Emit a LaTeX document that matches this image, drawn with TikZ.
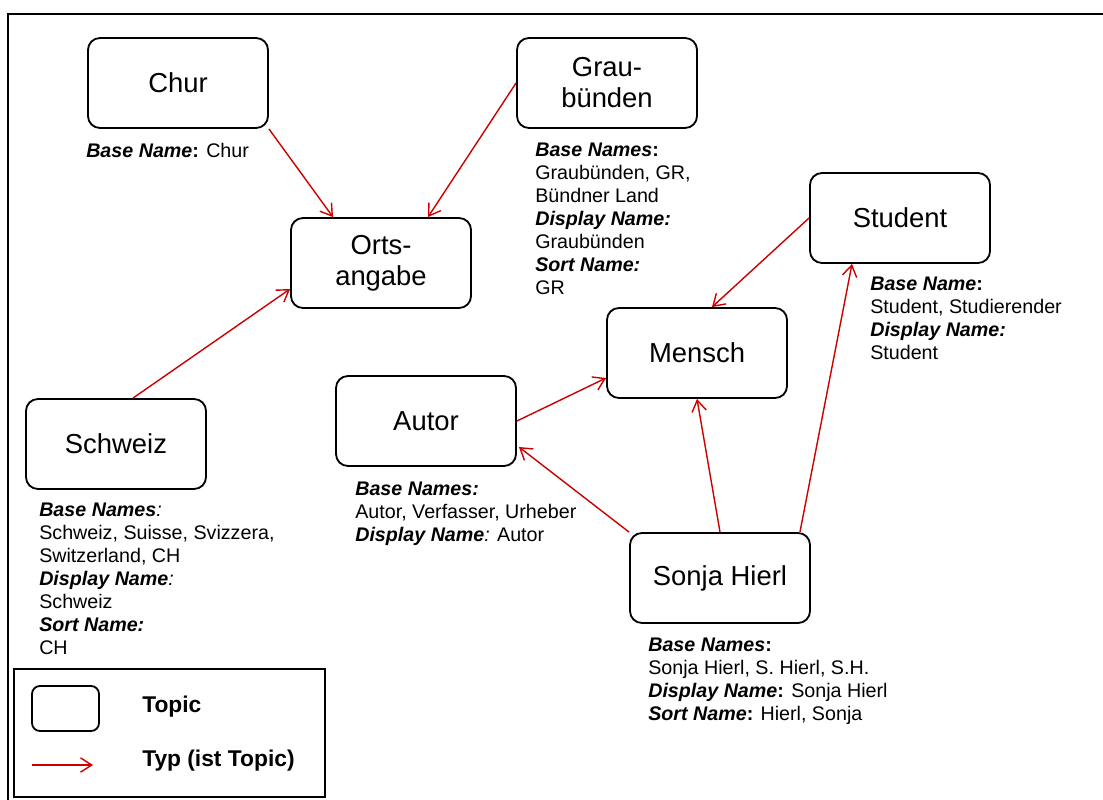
\documentclass[tikz,border=0pt]{standalone}
\usepackage{fontspec}
\setmainfont{Liberation Sans}
\usetikzlibrary{arrows.meta, calc, positioning}
\definecolor{typred}{RGB}{204,0,0}
\newcommand{\fld}[1]{\textbf{\textit{#1}}}
\tikzset{
	topic/.style ={rectangle, rounded corners=0.3cm, draw, line width=1.3pt, minimum width=4.5cm, minimum height=2.25cm, align=center, font=\fontsize{19.5}{22}\selectfont},
	typ/.style = {-{Straight Barb[length=2.8mm, width=3.6mm]}, draw=typred, line width=1pt},
	names/.style = {inner sep=0pt, anchor=north west, align=left, font=\fontsize{14}{16.3}\selectfont},
	legend/.style = {inner sep=0pt, anchor=base west, font=\fontsize{16.2}{19}\selectfont\bfseries}
}
\begin{document}
\begin{tikzpicture}[x=0.025cm, y=-0.025cm]
		\useasboundingbox (0,0) rectangle (1103,800);
		\draw[line width=2pt] (8,800) -- (8,14) -- (1103,14);

		\node[topic] (chur) at (178, 83) {Chur};
		\node[topic] (grau) at (607, 83) {Grau-\\bünden};
		\node[topic] (orts) at (381, 263) {Orts-\\angabe};
		\node[topic] (student) at (900, 218) {Student};
		\node[topic] (mensch) at (697, 353) {Mensch};
		\node[topic] (autor) at (426, 421) {Autor};
		\node[topic] (schweiz) at (116, 444) {Schweiz};
		\node[topic] (sonja) at (720, 578) {Sonja Hierl};

		% Names
		\node[names] (churnames) at (86, 143) {\fld{Base Name}\textbf{:} Chur};
		\node[names] (graunames) at (535, 143) {\fld{Base Names}\textbf{:}\\Graubünden, GR,\\Bündner Land\\\fld{Display Name:}\\Graubünden\\\fld{Sort Name:}\\GR};
		\node[names] (studentnames) at (870, 277) {\fld{Base Name}\textbf{:}\\Student, Studierender\\\fld{Display Name:}\\Student};
		\node[names] (schweiznames) at (39, 503) {\fld{Base Names}\textit{:}\\Schweiz, Suisse, Svizzera,\\Switzerland, CH\\\fld{Display Name}\textit{:}\\Schweiz\\\fld{Sort Name:}\\CH};
		\node[names] (autornames) at (355, 482) {\fld{Base Names:}\\Autor, Verfasser, Urheber\\\fld{Display Name}\textit{:} Autor};
		\node[names] (sonjanames) at (648, 638) {\fld{Base Names}\textbf{:}\\Sonja Hierl, S. Hierl, S.H.\\\fld{Display Name}\textbf{:} Sonja Hierl\\\fld{Sort Name}\textbf{:} Hierl, Sonja};

		% Typ edges
		\path (chur.south east) edge[typ] ($(orts.north)+(-48,0)$);
		\path (grau.west) edge[typ] ($(orts.north)+(47,0)$);
		\path ($(schweiz.north)+(17,0)$) edge[typ] ($(orts.west)+(0,26)$);
		\path (student.west) edge[typ] ($(mensch.north)+(15,0)$);
		\path (autor.east) edge[typ] ($(mensch.west)+(0,25)$);
		\path (sonja.north west) edge[typ] ($(autor.east)+(2,26)$);
		\path (sonja.north) edge[typ] (mensch.south);
		\path ($(sonja.north east)+(-11,0)$) edge[typ] ($(student.south)+(-48,0)$);

		% Legend
		\draw[line width=1.5pt] (14,669) rectangle (325,797);
		\node[rectangle, rounded corners=0.2cm, draw, line width=1.3pt, minimum width=1.675cm, minimum height=1.125cm] (lgtopic) at (65.5, 708.5) {};
		\coordinate (lgfrom) at (32, 765);
		\coordinate (lgto) at (93, 765);
		\path (lgfrom) edge[typ] (lgto);
		\node[legend] (lgtopictext) at (142, 712) {Topic};
		\node[legend] (lgtyptext) at (142, 766) {Typ (ist Topic)};
\end{tikzpicture}
\end{document}
